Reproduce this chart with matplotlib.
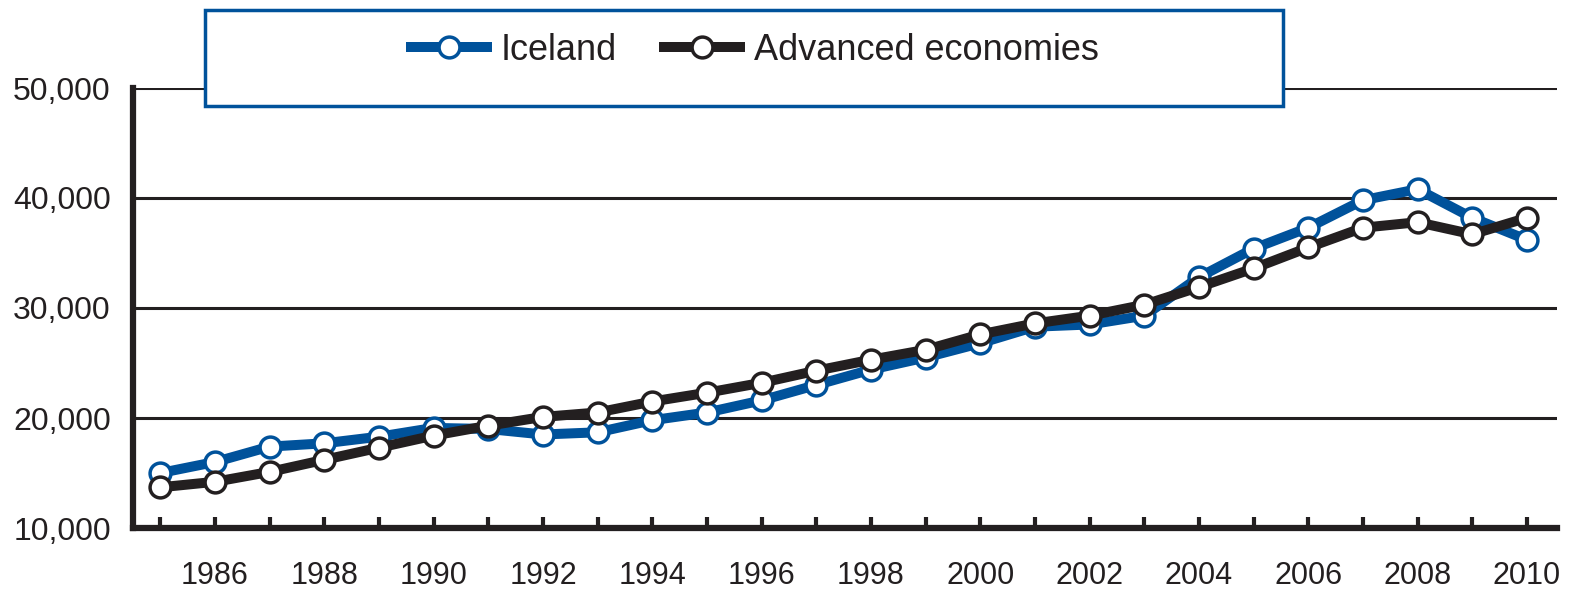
import matplotlib
matplotlib.use("Agg")
import matplotlib.pyplot as plt
from matplotlib.patches import Rectangle

# GDP per capita, Iceland vs advanced economies
years = list(range(1985, 2011))
iceland = [15000, 16000, 17400, 17700, 18300, 19100, 19000, 18500, 18700, 19800,
           20500, 21600, 23000, 24400, 25500, 26800, 28300, 28500, 29300, 32800,
           35400, 37300, 39800, 40800, 38200, 36200]
advanced = [13700, 14200, 15100, 16200, 17300, 18400, 19300, 20100, 20500, 21500,
            22300, 23200, 24300, 25300, 26200, 27600, 28600, 29300, 30300, 31900,
            33600, 35500, 37300, 37800, 36700, 38200]
yticks = [10000, 20000, 30000, 40000, 50000]

BLUE = "#00529b"
DARK = "#231f20"
plt.rcParams['font.family'] = ['Liberation Sans', 'DejaVu Sans']

fig = plt.figure(figsize=(15.7, 5.98), dpi=100)
ax = fig.add_axes([133/1570, 70/598, 1424/1570, 440/598])

ax.plot(years, iceland, color=BLUE, lw=7.2, marker='o', ms=15, mfc='white',
        mec=BLUE, mew=2.5, label='Iceland', zorder=3)
ax.plot(years, advanced, color=DARK, lw=7.2, marker='o', ms=15, mfc='white',
        mec=DARK, mew=2.5, label='Advanced economies', zorder=4)

ax.set_xlim(1984.5, 2010.55)
ax.set_ylim(10000, 50000)
ax.set_yticks(yticks)
ax.set_yticklabels([f"{v:,}" for v in yticks])
ax.set_xticks(years)
ax.set_xticklabels([str(y) if y % 2 == 0 else '' for y in years])

ax.grid(axis='y', color=DARK, lw=2.2, zorder=1)
ax.set_axisbelow(True)
for s in ['top', 'right']:
    ax.spines[s].set_visible(False)
for s in ['left', 'bottom']:
    ax.spines[s].set_color(DARK)
    ax.spines[s].set_linewidth(4.5)
    ax.spines[s].set_zorder(5)
ax.tick_params(axis='x', direction='in', length=8, width=3, color=DARK,
               labelsize=22, labelcolor=DARK, pad=24)
ax.tick_params(axis='y', length=0, labelsize=23, labelcolor=DARK, pad=16)

# legend box sits on top of the 50,000 line
fig.patches.append(Rectangle((205/1570, 492/598), 1078/1570, 96/598,
                             transform=fig.transFigure, facecolor='white',
                             edgecolor=BLUE, lw=2.5, zorder=2))
h, l = ax.get_legend_handles_labels()
fig.legend(h, l, loc='center', bbox_to_anchor=(755/1570, 548/598), ncol=2,
           frameon=False, fontsize=26, labelcolor=DARK, handlelength=2.1,
           handletextpad=0.4, columnspacing=1.3)

fig.savefig("out.png", dpi=100)
